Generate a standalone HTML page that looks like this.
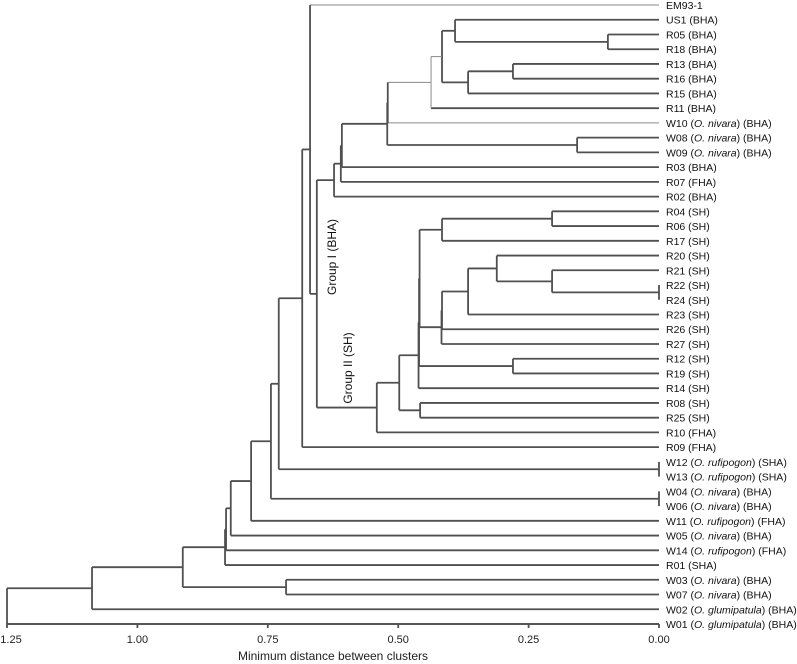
<!DOCTYPE html>
<html><head><meta charset="utf-8">
<style>
html,body{margin:0;padding:0;background:#fff;}
svg{display:block;font-family:"Liberation Sans",sans-serif;}
</style></head>
<body>
<svg id="chart" width="797" height="664" viewBox="0 0 797 664" xmlns="http://www.w3.org/2000/svg">
<g id="tree"></g>
<g id="labels"></g>
<g id="axis"></g>
<text x="0" y="0" transform="translate(336,257) rotate(-90)" text-anchor="middle" font-size="12" fill="#111">Group I (BHA)</text>
<text x="0" y="0" transform="translate(352,368) rotate(-90)" text-anchor="middle" font-size="12" fill="#111">Group II (SH)</text>
<text x="333" y="660" text-anchor="middle" font-size="12" fill="#222">Minimum distance between clusters</text>
</svg>
<script>
const leafNames = ["EM93-1","US1","R05","R18","R13","R16","R15","R11","W10","W08","W09","R03","R07","R02","R04","R06","R17","R20","R21","R22","R24","R23","R26","R27","R12","R19","R14","R08","R25","R10","R09","W12","W13","W04","W06","W11","W05","W14","R01","W03","W07","W02","W01"];
const leafSpecies = ["","","","","","","","","O. nivara","O. nivara","O. nivara","","","","","","","","","","","","","","","","","","","","","O. rufipogon","O. rufipogon","O. nivara","O. nivara","O. rufipogon","O. nivara","O. rufipogon","","O. nivara","O. nivara","O. glumipatula","O. glumipatula"];
const leafGroups = ["","BHA","BHA","BHA","BHA","BHA","BHA","BHA","BHA","BHA","BHA","BHA","FHA","BHA","SH","SH","SH","SH","SH","SH","SH","SH","SH","SH","SH","SH","SH","SH","SH","FHA","FHA","SHA","SHA","BHA","BHA","FHA","BHA","FHA","SHA","BHA","BHA","BHA","BHA"];
const mergeLeft  = [2,1,4,45,44,47,9,48,50,51,52,53,14,55,19,18,17,59,60,61,24,56,64,65,27,66,68,54,0,71,31,72,33,74,76,77,78,79,39,80,82,83];
const mergeRight = [3,43,5,6,46,7,10,8,49,11,12,13,15,16,20,57,58,21,22,23,25,62,63,26,28,67,29,69,70,30,32,73,34,75,35,36,37,38,40,81,41,42];
const mergeDist  = [0.098,0.391,0.280,0.366,0.416,0.437,0.157,0.520,0.521,0.608,0.610,0.623,0.205,0.416,0.0,0.205,0.311,0.366,0.416,0.417,0.280,0.459,0.460,0.461,0.458,0.498,0.541,0.656,0.669,0.684,0.0,0.729,0.0,0.744,0.782,0.821,0.830,0.832,0.715,0.913,1.087,1.25];
const tickValues = [1.25,1.00,0.75,0.50,0.25,0.00];
const tickLabels = ["1.25","1.00","0.75","0.50","0.25","0.00"];

const NS="http://www.w3.org/2000/svg";
const X0=659, XS=521.6;
function xScale(d){return X0 - d*XS;}
function yLeaf(i){return 5 + i*(619/42);}
const thinLeaves = new Set([0,8]);
const thinNodes = new Set([47,48]);

const tree=document.getElementById('tree');
const labels=document.getElementById('labels');
const axis=document.getElementById('axis');
function line(g,x1,y1,x2,y2,thin,name){
  const l=document.createElementNS(NS,'line');
  l.setAttribute('x1',x1);l.setAttribute('y1',y1);l.setAttribute('x2',x2);l.setAttribute('y2',y2);
  l.setAttribute('stroke',thin?'#8a8a8a':'#505050');
  l.setAttribute('stroke-width',thin?1:1.8);
  
  
  g.appendChild(l);
}
const nx=[], ny=[];
for(let i=0;i<leafNames.length;i++){nx.push(xScale(0)); ny.push(yLeaf(i));}
for(let k=0;k<mergeDist.length;k++){
  const a=mergeLeft[k], b=mergeRight[k], x=xScale(mergeDist[k]);
  const id=leafNames.length+k;
  line(tree,nx[a],ny[a],x,ny[a],thinLeaves.has(a)||thinNodes.has(a),'branch');
  line(tree,nx[b],ny[b],x,ny[b],thinLeaves.has(b)||thinNodes.has(b),'branch');
  line(tree,x,ny[a],x,ny[b],id===48,'node-link');
  nx.push(x); ny.push((ny[a]+ny[b])/2);
}
for(let i=0;i<leafNames.length;i++){
  const t=document.createElementNS(NS,'text');
  t.setAttribute('x',666);t.setAttribute('y',yLeaf(i)+4);
  t.setAttribute('font-size','10.5');t.setAttribute('fill','#111');
  
  
  const s1=document.createElementNS(NS,'tspan');
  if(leafSpecies[i]){
    s1.textContent=leafNames[i]+' (';t.appendChild(s1);
    const s2=document.createElementNS(NS,'tspan');s2.setAttribute('font-style','italic');s2.textContent=leafSpecies[i];t.appendChild(s2);
    const s3=document.createElementNS(NS,'tspan');s3.textContent=') ('+leafGroups[i]+')';t.appendChild(s3);
  } else {
    s1.textContent=leafNames[i]+(leafGroups[i]?' ('+leafGroups[i]+')':'');t.appendChild(s1);
  }
  labels.appendChild(t);
}
line(axis,xScale(1.25),624,xScale(0),624,false,'x-axis-line');
for(let i=0;i<tickValues.length;i++){
  const x=xScale(tickValues[i]);
  line(axis,x,624,x,628,false,'x-tick');
  const t=document.createElementNS(NS,'text');
  t.setAttribute('x',Math.max(x,11));t.setAttribute('y',643);t.setAttribute('text-anchor','middle');
  t.setAttribute('font-size','11');t.setAttribute('fill','#222');
  
  
  t.textContent=tickLabels[i];
  axis.appendChild(t);
}
</script>
</body></html>
